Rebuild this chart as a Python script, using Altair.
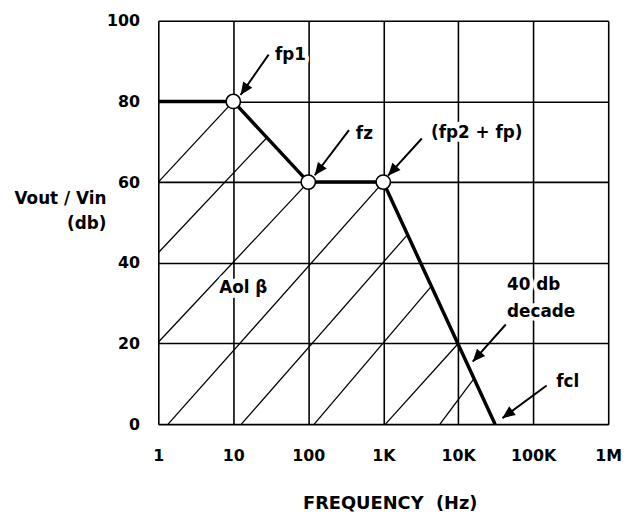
import math
import altair as alt
import pandas as pd

# ---- data ----
# Thick Bode response (frequency in Hz, gain in db)
resp_freq = [1, 10, 100, 1000, 31000]
resp_db = [80, 80, 60, 60, 0]

# Break points (open circles)
pt_freq = [10, 100, 1000]
pt_db = [80, 60, 60]

# Thin 20 db/decade guide lines: start / end points
diag_f1 = [1, 1, 1, 1.35, 12.8, 120, 1070, 5700]
diag_db1 = [60, 42.5, 20.3, 0, 0, 0, 0, 0]
diag_f2 = [10, 28, 100, 1000, 2110, 4400, 10000, 16400]
diag_db2 = [80, 71, 60, 60, 47, 34.2, 20, 11.4]

# Annotation labels
lab_text = ["fp1", "fz", "(fp2 + fp)", "40 db", "decade", "fcl"]
lab_freq = [35.9, 431, 4330, 44800, 44800, 202000]
lab_db = [91.6, 72.0, 72.2, 34.5, 27.9, 10.5]

mid_text = ["Aol β"]
mid_freq = [13.6]
mid_db = [33.8]

# Arrows: start -> tip
arr_f1 = [29.6, 349, 3266, 43000, 151000]
arr_db1 = [91.6, 72.9, 70.8, 24.7, 9.6]
arr_f2 = [12.5, 122, 1157, 15600, 38800]
arr_db2 = [81.6, 61.7, 61.6, 15.5, 1.5]

x_ticks = [1, 10, 100, 1000, 10000, 100000, 1000000]
y_ticks = [0, 20, 40, 60, 80, 100]

# ---- layout ----
W, H = 455, 408
FONT = "DejaVu Sans"

xscale = alt.Scale(type="log", domain=[1, 1000000], nice=False)
yscale = alt.Scale(domain=[0, 100], nice=False, zero=False)

xaxis = alt.Axis(
    values=x_ticks, grid=True, ticks=False, domain=False,
    gridColor="black", gridWidth=1.6, gridOpacity=1,
    labelExpr="replace(format(datum.value, '~s'), 'k', 'K')",
    labelPadding=24, labelFontSize=16, labelFont=FONT, labelFontWeight="bold",
    labelColor="black", labelFlush=False, labelOverlap=False,
    title="FREQUENCY\u00a0\u00a0(Hz)", titleFont=FONT, titleFontSize=18,
    titleFontWeight="bold", titleColor="black",
    titleAlign="center", titleAnchor="start", titleX=234, titleY=80,
    titleBaseline="middle",
)
yaxis = alt.Axis(
    values=y_ticks, grid=True, ticks=False, domain=False,
    gridColor="black", gridWidth=1.6, gridOpacity=1,
    labelPadding=19, labelFontSize=16, labelFont=FONT, labelFontWeight="bold",
    labelColor="black", labelFlush=False, labelOverlap=False,
    title=["Vout / Vin", "(db)"], titleFont=FONT, titleFontSize=17,
    titleFontWeight="bold", titleColor="black", titleAngle=0,
    titleAlign="right", titleX=-53, titleY=172, titleBaseline="top",
    titleLineHeight=25,
)


def X(field):
    return alt.X(field, type="quantitative", scale=xscale, axis=xaxis)


def Y(field):
    return alt.Y(field, type="quantitative", scale=yscale, axis=yaxis)


def to_px(f, db):
    return (math.log10(f) / 6 * W, H - db / 100 * H)


resp_df = pd.DataFrame({"f": resp_freq, "db": resp_db, "i": range(len(resp_freq))})
pt_df = pd.DataFrame({"f": pt_freq, "db": pt_db})
diag_df = pd.DataFrame({"f": diag_f1, "db": diag_db1, "f2": diag_f2, "db2": diag_db2})
lab_df = pd.DataFrame({"t": lab_text, "f": lab_freq, "db": lab_db})
mid_df = pd.DataFrame({"t": mid_text, "f": mid_freq, "db": mid_db})

angles = []
for a, b, c, d in zip(arr_f1, arr_db1, arr_f2, arr_db2):
    x1, y1 = to_px(a, b)
    x2, y2 = to_px(c, d)
    angles.append(math.degrees(math.atan2(x2 - x1, -(y2 - y1))) % 360)
arr_df = pd.DataFrame({"f": arr_f1, "db": arr_db1, "f2": arr_f2, "db2": arr_db2,
                       "ang": angles})

diag = alt.Chart(diag_df).mark_rule(color="black", strokeWidth=1.3).encode(
    x=X("f"), y=Y("db"), x2="f2", y2="db2")

resp = alt.Chart(resp_df).mark_line(color="black", strokeWidth=3.5).encode(
    x=X("f"), y=Y("db"), order="i:Q")

pts = alt.Chart(pt_df).mark_point(
    shape="circle", filled=True, fill="white", stroke="black", strokeWidth=1.6,
    size=210, opacity=1).encode(x=X("f"), y=Y("db"))

text_common = dict(font=FONT, fontSize=17, fontWeight="bold")

lab_halo = alt.Chart(lab_df).mark_text(
    align="left", baseline="middle", fill="white", stroke="white",
    strokeWidth=8, strokeJoin="round", **text_common).encode(
    x=X("f"), y=Y("db"), text="t:N")
lab = alt.Chart(lab_df).mark_text(
    align="left", baseline="middle", color="black", **text_common).encode(
    x=X("f"), y=Y("db"), text="t:N")

mid_halo = alt.Chart(mid_df).mark_text(
    align="center", baseline="middle", fill="white", stroke="white",
    strokeWidth=10, strokeJoin="round", **text_common).encode(
    x=X("f"), y=Y("db"), text="t:N")
mid = alt.Chart(mid_df).mark_text(
    align="center", baseline="middle", color="black", **text_common).encode(
    x=X("f"), y=Y("db"), text="t:N")

arr_lines = alt.Chart(arr_df).mark_rule(color="black", strokeWidth=2).encode(
    x=X("f"), y=Y("db"), x2="f2", y2="db2")

arr_heads = alt.Chart(arr_df).mark_point(
    shape="M0,0L-0.7,1.6L0.7,1.6Z", filled=True, color="black", size=250,
    opacity=1).encode(
    x=X("f2"), y=Y("db2"), angle=alt.Angle("ang:Q", scale=None))

chart = alt.layer(
    diag, resp, pts, mid_halo, mid, lab_halo, lab, arr_lines, arr_heads
).properties(
    width=W, height=H,
    autosize=alt.AutoSizeParams(type="none"),
    padding={"left": 152, "top": 10, "right": 20, "bottom": 90},
).configure_view(
    stroke="black", strokeWidth=2
).configure(background="white")

chart.save("out.html", embed_options={"renderer": "svg", "actions": False})
